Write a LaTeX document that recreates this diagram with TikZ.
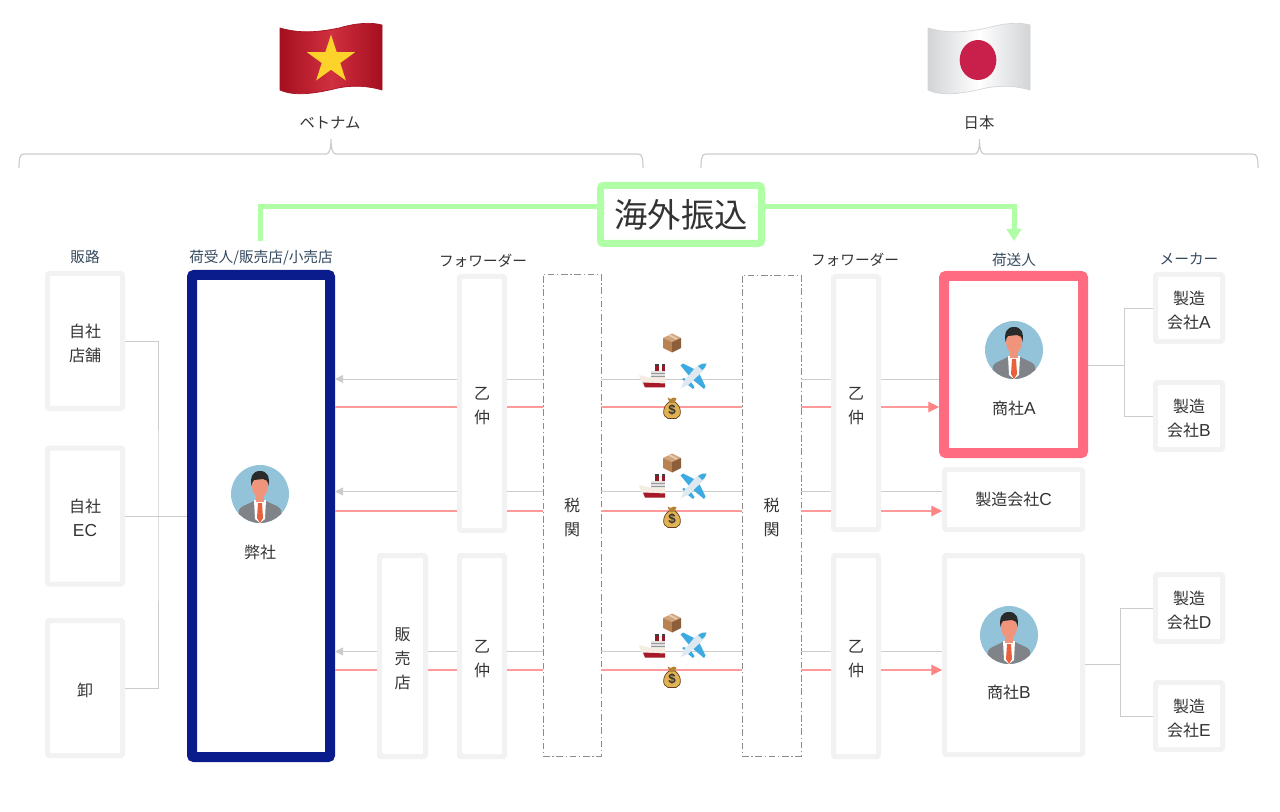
\documentclass[tikz,border=0pt]{standalone}
\usepackage{fontspec}
\setmainfont{Noto Sans CJK JP}
\newfontfamily\ltnfont{Liberation Sans}
\newcommand{\ltn}[1]{{\ltnfont\fontsize{13}{18}\selectfont #1}}
\usetikzlibrary{arrows.meta,shapes.geometric}
\definecolor{txtdark}{HTML}{333333}
\definecolor{txtblue}{HTML}{34495E}
\definecolor{boxgray}{HTML}{F2F2F2}
\definecolor{linegray}{HTML}{CCCCCC}
\definecolor{linered}{HTML}{FF9A9A}
\definecolor{arrowred}{HTML}{FF8585}
\definecolor{navy}{HTML}{0A1C8C}
\definecolor{pinkred}{HTML}{FF6B81}
\definecolor{paleg}{HTML}{B0FFA6}
\definecolor{vnedge}{HTML}{A50F20}
\definecolor{vnmid}{HTML}{D0303F}
\definecolor{jpedge}{HTML}{D2D4D6}
\definecolor{jpdot}{HTML}{C8204A}
\definecolor{vnyellow}{HTML}{FCD22B}

% small pictures
\tikzset{
pics/wflag/.style n args={3}{code={
	\draw[draw=#1,line width=0.5pt,left color=#1,right color=#3,middle color=#2] (-51,-29) .. controls (-30,-23) and (-12,-25) .. (8,-29) .. controls (25,-34) and (40,-35) .. (51,-32) -- (51,33) .. controls (38,29) and (22,28) .. (7,31) .. controls (-13,36) and (-36,40) .. (-51,33) -- cycle;
}},
pics/person/.style={code={
	\fill[color={rgb,255:red,147;green,195;blue,216}] (0,0) circle (29);
	\begin{scope}
	\clip (0,0) circle (29);
	\fill[color={rgb,255:red,128;green,132;blue,136}] (-23,29) -- (-21,16) .. controls (-20,12) and (-10,10) .. (-5,6) -- (5,6) .. controls (10,10) and (20,12) .. (21,16) -- (23,29) -- cycle;
	\fill[white] (-6,6) -- (6,6) -- (5,25) -- (0,29) -- (-5,25) -- cycle;
	\fill[color={rgb,255:red,232;green,96;blue,60}] (-2,9) -- (2,9) -- (3,24) -- (0,29) -- (-3,24) -- cycle;
	\fill[color={rgb,255:red,240;green,149;blue,124}] (-4,0) rectangle (4,8);
	\fill[color={rgb,255:red,240;green,149;blue,124}] (0,-8) ellipse (8 and 11.5);
	\fill[color={rgb,255:red,42;green,42;blue,42}] (-8.5,-8) .. controls (-10,-18) and (-7,-23) .. (0,-23) .. controls (7,-23) and (10,-18) .. (8.5,-8) .. controls (8,-13) and (6,-15) .. (3,-15) -- (-6,-14) .. controls (-7,-13) and (-8,-11) .. cycle;
	\end{scope}
}},
pics/cardbox/.style={code={
	\fill[color={rgb,255:red,208;green,165;blue,122}] (0,-9.5) -- (9,-5) -- (0,-1) -- (-9,-5) -- cycle;
	\fill[color={rgb,255:red,185;green,130;blue,82}] (-9,-5) -- (0,-1) -- (0,9.5) -- (-9,5) -- cycle;
	\fill[color={rgb,255:red,140;green,95;blue,58}] (9,-5) -- (0,-1) -- (0,9.5) -- (9,5) -- cycle;
	\fill[color={rgb,255:red,228;green,205;blue,178}] (-4,-7.5) -- (-2,-8.5) -- (6,-4.5) -- (4,-3.5) -- cycle;
}},
pics/moneybag/.style={code={
	\draw[draw=black!50!brown,line width=0.5pt,fill={rgb,255:red,224;green,178;blue,84}] (-3,-6) .. controls (-10,-1) and (-10,9) .. (-4,10.5) -- (4,10.5) .. controls (10,9) and (10,-1) .. (3,-6) -- cycle;
	\fill[color={rgb,255:red,180;green,130;blue,50}] (-4.5,-10.5) -- (-1.5,-9) -- (1.5,-10.5) -- (4.5,-9.5) -- (2.5,-5.5) -- (-2.5,-5.5) -- cycle;
	\node[inner sep=0,text=black!80,font=\ltnfont\bfseries\fontsize{10}{10}\selectfont] (-sign) at (0,2.5) {\$};
}},
pics/liner/.style={code={
	\fill[color={rgb,255:red,150;green,25;blue,40}] (3.3,-12) rectangle (6.6,-5);
	\fill[color={rgb,255:red,150;green,25;blue,40}] (10,-12) rectangle (13,-5);
	\fill[black!75] (3.3,-12) rectangle (6.6,-10);
	\fill[black!75] (10,-12) rectangle (13,-10);
	\fill[black!12] (-1,-5) rectangle (13,2);
	\draw[black!40,line width=0.5pt] (-1,-2.5) -- (13,-2.5) (-1,0) -- (13,0);
	\fill[color={rgb,255:red,245;green,236;blue,228}] (-13,-1) -- (-3,1.5) -- (13,1.5) -- (13,11.5) -- (-7,11.5) .. controls (-10,8) and (-12,3) .. cycle;
	\fill[color={rgb,255:red,165;green,25;blue,40}] (-9,6.5) -- (13,7.5) -- (13,11.5) -- (-7,11.5) -- cycle;
}},
pics/jetliner/.style={code={
	\fill[color={rgb,255:red,62;green,170;blue,226}] (-12.5,-10.5) -- (-10,-12.5) -- (3,-6) -- (-3,1) -- cycle;
	\fill[color={rgb,255:red,62;green,170;blue,226}] (11,13) -- (12.5,10.5) -- (6,-3) -- (-1,3) -- cycle;
	\fill[color={rgb,255:red,62;green,170;blue,226}] (-11,3) -- (-9,2) -- (-4,5) -- (-6,8) -- cycle;
	\fill[color={rgb,255:red,62;green,170;blue,226}] (0,13) -- (1.5,11) -- (-2,6) -- (-5,9) -- cycle;
	\fill[color={rgb,255:red,222;green,232;blue,238}] (13.5,-12.5) .. controls (9,-13) and (5,-11) .. (2,-8) -- (-9,5) -- (-12,12) -- (-5,9) -- (8,-3) .. controls (11,-6) and (13,-8) .. cycle;
	\fill[color={rgb,255:red,62;green,170;blue,226}] (13.5,-12.5) .. controls (10,-13) and (8,-12) .. (5,-10) -- (9,-6) .. controls (12,-8) and (13,-10) .. cycle;
}}
}
\newcommand{\bracket}[3]{\draw[bracketline] (#1,168) .. controls (#1,158) and (#1+1,154) .. (#1+5,154) -- (#2-5,154) .. controls (#2-2,154) and (#2,150) .. (#2,139) .. controls (#2,150) and (#2+2,154) .. (#2+5,154) -- (#3-5,154) .. controls (#3-1,154) and (#3,158) .. (#3,168);}
\newcommand{\up}{\rule{0pt}{13pt}}

\begin{document}
\begin{tikzpicture}
[x=0.75pt,y=-0.75pt,
sz/.style 2 args={minimum width=#1*0.75pt,minimum height=#2*0.75pt},
graybox/.style={draw=boxgray,line width=3.75pt,rounded corners=1pt,inner sep=0pt,align=center,text=txtdark,font=\fontsize{12}{18}\selectfont},
strongbox/.style={draw=#1,line width=7.5pt,rounded corners=1.5pt,inner sep=0pt},
gatebox/.style={draw=black!45,line width=0.6pt,dash pattern=on 5pt off 2pt on 1pt off 2pt,inner sep=0pt,align=center,text=txtdark,font=\fontsize{12}{18}\selectfont},
plainlabel/.style={inner sep=0pt,text=txtdark,font=\fontsize{11.5}{14}\selectfont},
headlabel/.style={inner sep=0pt,text=txtblue,font=\fontsize{11}{14}\selectfont},
conn/.style={draw=linegray,line width=0.7pt},
goods/.style={conn,-{Triangle[length=6pt,width=6pt]}},
payline/.style={draw=linered,line width=0.8pt},
pay/.style={payline,-{Triangle[length=8pt,width=8pt,color=arrowred]}},
greenline/.style={draw=paleg,line width=3.75pt},
bracketline/.style={draw=linegray,line width=0.9pt}]

\useasboundingbox (0,0) rectangle (1280,812);

% flags
\pic (vnflag) at (331,57) {wflag={vnedge}{vnmid}{vnedge}};
\node[star,star points=5,star point ratio=2.6,fill=vnyellow,inner sep=0pt,minimum size=38pt] (vnstar) at (331,60) {};
\pic (jpflag) at (979,57) {wflag={jpedge}{white}{jpedge}};
\node[ellipse,fill=jpdot,inner sep=0pt,minimum width=27.5pt,minimum height=30pt] (jpdisc) at (978,60) {};

\node[plainlabel] (vn) at (330,122.5) {ベトナム};
\node[plainlabel] (jp) at (979,122.5) {日本};
\bracket{19}{331}{643}
\bracket{701}{979.5}{1258}

% column heads
\node[headlabel] (hanro) at (85,257) {販路};
\node[headlabel] (nigo) at (261,258) {荷受人/販売店/小売店};
\node[plainlabel,font=\fontsize{11}{14}\selectfont] (fwL) at (483,261) {フォワーダー};
\node[plainlabel,font=\fontsize{11}{14}\selectfont] (fwR) at (855,260) {フォワーダー};
\node[headlabel] (nios) at (1014,260) {荷送人};
\node[headlabel] (maker) at (1189,259) {メーカー};

% left side
\node[graybox,sz={75}{135}] (tenpo) at (85,341) {\up 自社\\店舗};
\node[graybox,sz={75}{136}] (ec) at (85,516) {\up 自社\\\ltn{EC}};
\node[graybox,sz={75}{135}] (oroshi) at (85,688) {\up 卸};
\node[strongbox=navy,sz={138}{482}] (heisha) at (261,516) {};
\node[plainlabel,font=\fontsize{12}{18}\selectfont] (heishaname) at (260,552) {弊社};
\node[graybox,sz={46}{201}] (hanbai) at (402.5,656) {\up 販\\売\\店};
\node[graybox,sz={45}{254}] (otsuLa) at (482,403.5) {\up 乙\\仲};
\node[graybox,sz={45}{201}] (otsuLb) at (482,656) {\up 乙\\仲};

% customs
\node[gatebox,sz={58}{482}] (zeiL) at (572,515) {\up 税\\関};
\node[gatebox,sz={59}{481}] (zeiR) at (771.5,515.5) {\up 税\\関};

% right side
\node[graybox,sz={45}{253}] (otsuRa) at (856,403) {\up 乙\\仲};
\node[graybox,sz={45}{201}] (otsuRb) at (856,656) {\up 乙\\仲};
\node[strongbox=pinkred,sz={139}{177}] (shosaA) at (1013.5,364.5) {};
\node[plainlabel,font=\fontsize{12}{18}\selectfont] (shosaAname) at (1014,408.5) {商社\ltn{A}};
\node[graybox,sz={138}{60}] (seizoC) at (1013.5,499.5) {製造会社\ltn{C}};
\node[graybox,sz={138}{199}] (shosaB) at (1013.5,655) {};
\node[plainlabel,font=\fontsize{12}{18}\selectfont] (shosaBname) at (1009,692.5) {商社\ltn{B}};
\node[graybox,sz={67}{67}] (seizoA) at (1189,308) {\up 製造\\会社\ltn{A}};
\node[graybox,sz={67}{67}] (seizoB) at (1189,416) {\up 製造\\会社\ltn{B}};
\node[graybox,sz={67}{67}] (seizoD) at (1189,608) {\up 製造\\会社\ltn{D}};
\node[graybox,sz={67}{67}] (seizoE) at (1189,716) {\up 製造\\会社\ltn{E}};

% remittance
\node[draw=paleg,line width=5.25pt,rounded corners=2pt,inner sep=0pt,sz={161}{58},text=txtdark,font=\fontsize{25}{30}\selectfont] (kaigai) at (681,214.5) {海外振込};
\coordinate (gy) at (0,207);
\coordinate (gL) at (260,241);
\coordinate (gR) at (1014,241);
\draw[greenline] (kaigai.west |- gy) -| (gL);
\draw[greenline,-{Triangle[length=9pt,width=11pt]}] (kaigai.east |- gy) -| (gR);

% branches
\coordinate (forkL) at (158,516);
\coordinate (forkA) at (1124,365);
\coordinate (forkB) at (1120,664);
\draw[conn] (tenpo.east) -| (forkL) |- (oroshi.east);
\draw[conn] (ec.east) -- (heisha.west);
\draw[conn] (shosaA.east |- forkA) -- (forkA);
\draw[conn] (seizoA.west) -| (forkA) |- (seizoB.west);
\draw[conn] (shosaB.east |- forkB) -- (forkB);
\draw[conn] (seizoD.west) -| (forkB) |- (seizoE.west);

% goods and money rows
\coordinate (ga) at (0,379);
\coordinate (pa) at (0,407);
\coordinate (gb) at (0,491.5);
\coordinate (pb) at (0,511);
\coordinate (gc) at (0,651.5);
\coordinate (pc) at (0,670);
\foreach \g/\p/\lo/\ro/\dest in {ga/pa/otsuLa/otsuRa/shosaA,gb/pb/otsuLa/otsuRa/seizoC,gc/pc/otsuLb/otsuRb/shosaB}{
	\draw[conn] (\lo.east |- \g) -- (zeiL.west |- \g);
	\draw[conn] (zeiL.east |- \g) -- (zeiR.west |- \g);
	\draw[conn] (zeiR.east |- \g) -- (\ro.west |- \g);
	\draw[conn] (\ro.east |- \g) -- (\dest.west |- \g);
	\draw[payline] (\lo.east |- \p) -- (zeiL.west |- \p);
	\draw[payline] (zeiL.east |- \p) -- (zeiR.west |- \p);
	\draw[payline] (zeiR.east |- \p) -- (\ro.west |- \p);
	\draw[pay] (\ro.east |- \p) -- (\dest.west |- \p);
}
\draw[goods] (otsuLa.west |- ga) -- (heisha.east |- ga);
\draw[payline] (heisha.east |- pa) -- (otsuLa.west |- pa);
\draw[goods] (otsuLa.west |- gb) -- (heisha.east |- gb);
\draw[payline] (heisha.east |- pb) -- (otsuLa.west |- pb);
\draw[goods] (hanbai.west |- gc) -- (heisha.east |- gc);
\draw[payline] (heisha.east |- pc) -- (hanbai.west |- pc);
\draw[conn] (hanbai.east |- gc) -- (otsuLb.west |- gc);
\draw[payline] (hanbai.east |- pc) -- (otsuLb.west |- pc);

% people
\pic (manH) at (260,494) {person};
\pic (manA) at (1014,350) {person};
\pic (manB) at (1009,635) {person};

% freight
\foreach \r/\yb/\ys/\yp/\ym in {a/343/376/376/408,b/463/486/486/517,c/623/646/645/677}{
	\pic (parcel\r) at (672,\yb) {cardbox};
	\pic (ship\r) at (652,\ys) {liner};
	\pic (plane\r) at (693,\yp) {jetliner};
	\pic (bag\r) at (672,\ym) {moneybag};
}
\end{tikzpicture}
\end{document}
